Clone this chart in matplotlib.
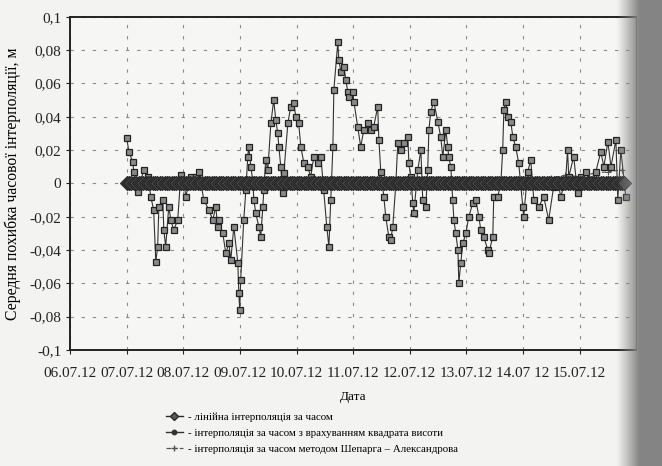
import matplotlib
matplotlib.use("Agg")
import matplotlib.pyplot as plt
from matplotlib.lines import Line2D
import numpy as np
from datetime import datetime, timedelta

# ---------------- data ----------------
start = datetime(2012, 7, 7, 0, 0)

# hours since 07.07.12 00:00 for interpolation with height-squared correction
hours_sq = [0, 0.9, 2.5, 3.0, 4.7, 7.2, 8.9, 10.2, 11.4, 12.3, 13.1, 13.6, 15.3, 15.7,
            16.5, 17.8, 18.7, 19.9, 21.6, 22.9, 24.2, 25.0, 27.1, 29.3, 30.5, 32.7,
            34.8, 36.5, 37.7, 38.6, 39.0, 40.7, 42.0, 43.3, 44.1, 45.4, 47.1, 47.5,
            47.9, 48.3, 49.6, 50.5, 51.3, 51.7, 52.6, 53.4, 53.9, 54.7, 56.0, 56.8,
            57.7, 58.1, 58.9, 59.8, 61.1, 62.3, 63.2, 64.0, 64.5, 65.3, 66.2, 66.6,
            68.3, 69.5, 70.8, 71.7, 72.9, 73.8, 75.1, 76.7, 78.0, 79.3, 81.0, 82.3,
            83.5, 84.8, 85.7, 86.5, 87.4, 87.8, 89.5, 89.9, 90.8, 92.0, 92.9, 93.7,
            94.1, 95.8, 96.3, 97.9, 99.2, 100.5, 102.2, 103.5, 104.7, 106.4, 106.9,
            107.7, 109.0, 109.8, 111.1, 111.9, 112.8, 114.1, 114.9, 116.2, 117.5,
            119.2, 119.6, 120.4, 121.3, 121.7, 123.4, 124.7, 125.5, 126.8, 127.6,
            128.1, 128.9, 130.2, 131.9, 133.1, 134.0, 135.3, 136.1, 136.5, 137.4,
            138.2, 138.7, 139.5, 140.4, 140.8, 141.6, 142.5, 143.8, 145.0, 146.7,
            148.0, 149.3, 150.1, 151.4, 153.1, 153.5, 155.2, 155.6, 157.3, 158.6,
            159.4, 159.9, 160.7, 161.6, 162.8, 163.7, 164.9, 166.2, 167.9, 168.3,
            170.0, 171.3, 172.6, 174.7, 176.8, 178.9, 181.0, 182.7, 184.0, 186.1,
            186.9, 187.4, 189.5, 191.2, 192.5, 194.6, 196.7, 198.9, 201.0, 202.3,
            204.0, 205.3, 207.4, 208.2, 209.5, 211.6]
err_sq = [0.027, 0.019, 0.013, 0.007, -0.005, 0.008, 0.004, -0.008, -0.016, -0.047,
          -0.038, -0.014, -0.010, -0.028, -0.038, -0.014, -0.022, -0.028, -0.022,
          0.005, 0.002, -0.008, 0.004, 0.004, 0.007, -0.010, -0.016, -0.022, -0.014,
          -0.026, -0.022, -0.030, -0.042, -0.036, -0.046, -0.026, -0.048, -0.066,
          -0.076, -0.058, -0.022, -0.004, 0.016, 0.022, 0.010, 0.002, -0.010, -0.018,
          -0.026, -0.032, -0.014, -0.004, 0.014, 0.008, 0.036, 0.050, 0.038, 0.030,
          0.022, 0.010, -0.006, 0.006, 0.036, 0.046, 0.048, 0.040, 0.036, 0.022,
          0.012, 0.010, 0.004, 0.016, 0.012, 0.016, -0.004, -0.026, -0.038, -0.010,
          0.022, 0.056, 0.085, 0.074, 0.067, 0.070, 0.062, 0.055, 0.052, 0.055,
          0.049, 0.034, 0.022, 0.032, 0.036, 0.032, 0.034, 0.046, 0.026, 0.007,
          -0.008, -0.020, -0.032, -0.034, -0.026, 0.000, 0.024, 0.020, 0.024, 0.028,
          0.012, 0.004, -0.012, -0.018, 0.008, 0.020, -0.010, -0.014, 0.008, 0.032,
          0.043, 0.049, 0.037, 0.028, 0.016, 0.032, 0.022, 0.016, 0.010, -0.010,
          -0.022, -0.030, -0.040, -0.060, -0.048, -0.036, -0.030, -0.020, -0.012,
          -0.010, -0.020, -0.028, -0.032, -0.040, -0.042, -0.032, -0.008, -0.008,
          0.000, 0.020, 0.044, 0.049, 0.040, 0.037, 0.028, 0.022, 0.012, -0.014,
          -0.020, 0.007, 0.014, -0.010, -0.014, -0.008, -0.022, -0.002, 0.002,
          -0.008, 0.002, 0.020, 0.004, 0.016, -0.006, 0.004, 0.007, 0.002, 0.007,
          0.019, 0.010, 0.025, 0.010, 0.026, -0.010, 0.020, -0.008]

# linear interpolation in time: error stays at zero (hourly points)
hours_lin = list(range(0, 212))
err_lin = [0.0] * len(hours_lin)

# Shepard-Alexandrov interpolation: close to zero, small rise at the end
hours_sh = [0, 12, 24, 36, 48, 60, 72, 84, 96, 108, 120, 132, 144, 156, 168,
            174, 180, 186, 192, 198, 204, 210]
err_sh = [0.001, 0.0, 0.001, 0.0, -0.001, 0.0, 0.001, 0.0, 0.001, 0.0, -0.001,
          0.0, 0.001, 0.0, 0.001, 0.002, 0.003, 0.005, 0.004, 0.006, 0.007, 0.008]

y_ticks = [0.1, 0.08, 0.06, 0.04, 0.02, 0.0, -0.02, -0.04, -0.06, -0.08, -0.1]
y_tick_labels = ["0,1", "0,08", "0,06", "0,04", "0,02", "0", "-0,02", "-0,04",
                 "-0,06", "-0,08", "-0,1"]
x_tick_labels = ["06.07.12", "07.07.12", "08.07.12", "09.07.12", "10.07.12",
                 "11.07.12", "12.07.12", "13.07.12", "14.07 12", "15.07.12"]

legend_labels = ["- лінійна інтерполяція за часом",
                 "- інтерполяція за часом з врахуванням квадрата висоти",
                 "- інтерполяція за часом методом Шепарга \u2013 Александрова"]

# ---------------- plot ----------------
plt.rcParams['font.family'] = ['Liberation Serif', 'DejaVu Serif']

fig = plt.figure(figsize=(6.62, 4.66), dpi=100)
fig.patch.set_facecolor('#f3f3f1')
ax = fig.add_axes([0.106, 0.249, 0.855, 0.715])
ax.set_facecolor('#f6f6f4')

def to_dates(hs):
    return [start + timedelta(hours=h) for h in hs]

dark = '#2a2a2a'
ax.plot(to_dates(hours_sh), err_sh, linestyle='--', color='#555555', lw=0.8,
        marker='+', ms=4, mew=0.8, zorder=2)
ax.plot(to_dates(hours_sq), err_sq, linestyle='-', color='#333333', lw=0.8,
        marker='s', ms=4.3, mfc='#8a8a8a', mec='#222222', mew=0.9, zorder=3)
ax.plot(to_dates(hours_lin), err_lin, linestyle='-', color=dark, lw=1.2,
        marker='D', ms=7, mfc='#4a4a4a', mec='#262626', mew=0.8, zorder=4)

ax.set_xlim(datetime(2012, 7, 6), datetime(2012, 7, 16))
ax.set_ylim(-0.1, 0.1)
ax.set_yticks(y_ticks)
ax.set_yticklabels(y_tick_labels)
xt = [datetime(2012, 7, 6) + timedelta(days=i) for i in range(len(x_tick_labels))]
ax.set_xticks(xt)
ax.set_xticklabels(x_tick_labels)
ax.tick_params(axis='both', labelsize=11, colors='#222222', length=3, direction='out')
ax.tick_params(axis='x', pad=9)

ax.grid(True, linestyle=(0, (3, 7)), color='#8a8a8a', lw=0.8)
for s in ['left', 'bottom', 'top']:
    ax.spines[s].set_color('#222222')
    ax.spines[s].set_linewidth(1.4)
ax.spines['right'].set_color('#333333')

ax.set_xlabel('Дата', fontsize=9.5, labelpad=8)
ax.set_ylabel('Середня похибка часової інтерполяції, м', fontsize=11.3, labelpad=6)

handles = [
    Line2D([], [], color=dark, lw=1.0, marker='D', ms=4.5, mfc='#5a5a5a', mec=dark),
    Line2D([], [], color='#333333', lw=1.0, marker='o', ms=3.2, mfc='#333333', mec='#333333'),
    Line2D([], [], color='#555555', lw=0.9, linestyle='--', marker='+', ms=4.5),
]
fig.legend(handles, legend_labels, loc='upper left', bbox_to_anchor=(0.25, 0.116),
           frameon=False, fontsize=7.8, handlelength=1.6, handletextpad=0.5,
           labelspacing=0.6, borderaxespad=0, borderpad=0)

# scanned page shadow at right edge
sh = fig.add_axes([0.90, 0.0, 0.10, 1.0], zorder=10)
sh.axis('off')
grad = np.linspace(0, 1, 60)
alpha = np.clip((grad - 0.3) / 0.35, 0, 1) ** 1.1
img = np.zeros((10, 60, 4))
img[..., :3] = 0.52
img[..., 3] = alpha[None, :]
sh.imshow(img, aspect='auto', extent=[0, 1, 0, 1], interpolation='bilinear')
sh.set_xlim(0, 1)
sh.set_ylim(0, 1)

fig.savefig('out.png', dpi=100, facecolor=fig.get_facecolor())
